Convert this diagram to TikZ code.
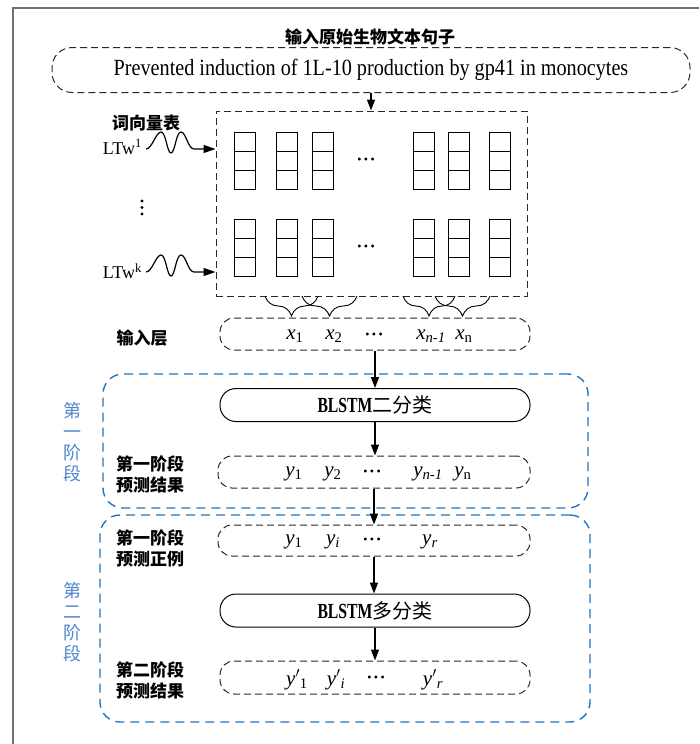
\documentclass[tikz,border=0pt]{standalone}
\usepackage{fontspec}
\setmainfont{Liberation Serif}
\newfontfamily\cjk{Noto Sans CJK SC}
\newfontfamily\narrowserif[FakeStretch=0.87]{Liberation Serif}
\newfontfamily\tallserif[FakeStretch=0.73]{Liberation Serif}
\usetikzlibrary{arrows.meta,decorations.pathreplacing}

\definecolor{framegray}{RGB}{112,112,112}
\definecolor{dashgray}{RGB}{40,40,40}
\definecolor{stageblue}{RGB}{28,118,198}
\definecolor{labelblue}{RGB}{80,134,204}

% italic symbol with subscript
\newcommand{\symsub}[2]{\textit{#1}\textsubscript{#2}}
\newcommand{\symprime}[2]{\textit{#1}$'$\textsubscript{#2}}
% heavy horizontal ellipsis
\newcommand{\hdots}{{\fontsize{12}{13}\selectfont •\kern2.4pt•\kern2.4pt•}}
% model name font
\newcommand{\modelfont}{\tallserif\bfseries\fontsize{21.5}{24}\selectfont}

\begin{document}
\begin{tikzpicture}[x=1pt,y=-1pt,
  dbox/.style={draw=dashgray, line width=1pt, dash pattern=on 7pt off 4pt,
    inner sep=0pt},
  pill/.style={draw=black, line width=1pt, rounded corners=16pt, inner sep=0pt,
    minimum width=310pt, minimum height=33pt},
  stagebox/.style={draw=stageblue, line width=1.4pt, dash pattern=on 9pt off 6pt,
    rounded corners=20pt, inner sep=0pt},
  flow/.style={-{Triangle[length=11pt,width=8pt]}, line width=1.4pt},
  wavearrow/.style={-{Triangle[length=12pt,width=8pt]}, line width=1.2pt},
  cell/.style={draw, line width=1pt, minimum width=21pt, minimum height=19pt,
    inner sep=0pt},
  lbl/.style={font=\cjk\bfseries\fontsize{17}{21}\selectfont, align=center,
    inner sep=0pt},
  vlbl/.style={font=\cjk\fontsize{18}{21}\selectfont, text=labelblue,
    align=center, inner sep=0pt},
  var/.style={font=\fontsize{21}{24}\selectfont, inner sep=0pt},
  brc/.style={decorate, decoration={brace, mirror, amplitude=20pt},
    line width=0.9pt},
  dotmark/.style={fill=black, circle, inner sep=0pt, minimum size=3.4pt}
]
\useasboundingbox (0,0) rectangle (699,744);

% page frame
\draw[framegray, line width=2pt] (13,744) -- (13,8) -- (699,8);

% input sentence
\node[lbl] (title) at (370,37) {输入原始生物文本句子};
\node[dbox, rounded corners=20pt, minimum width=638pt, minimum height=45pt,
  font=\narrowserif\fontsize{23.2}{26}\selectfont] (sent) at (371,70)
  {Prevented induction of 1L-10 production by gp41 in monocytes};

% word vector lookup tables
\node[dbox, minimum width=311pt, minimum height=185pt] (mat) at (371.5,203.5) {};
\foreach \cx [count=\ci] in {244.5,286.5,322.5,423.5,458.5,499.5}{
  \foreach \cy [count=\ri] in {141.5,160.5,179.5}
    \node[cell] (t-\ci-\ri) at (\cx,\cy) {};
  \foreach \cy [count=\ri] in {228.5,247.5,266.5}
    \node[cell] (b-\ci-\ri) at (\cx,\cy) {};
}
\node[inner sep=0pt] (tdots) at (366,161) {\hdots};
\node[inner sep=0pt] (bdots) at (366,248) {\hdots};

\node[lbl] (lut) at (146,123) {词向量表};
\node[font=\fontsize{18}{20}\selectfont, anchor=east, inner sep=0pt] (lt1) at (142,147) {LTw\textsuperscript{1}};
\node[font=\fontsize{18}{20}\selectfont, anchor=east, inner sep=0pt] (ltk) at (142,271) {LTw\textsuperscript{k}};
% vertical ellipsis between the tables
\foreach \dy [count=\di] in {201,207.5,214}
  \node[dotmark] (vd-\di) at (142,\dy) {};

\coordinate (w1) at (146,149);
\coordinate (wk) at (146,272);
\foreach \w in {w1,wk}
  \draw[wavearrow] (\w) .. controls +(6,0) and +(-5,0) .. ++(15,-17)
    .. controls +(5,0) and +(-4,0) .. ++(10,21)
    .. controls +(4,0) and +(-5,0) .. ++(10,-21)
    .. controls +(5,0) and +(-6,0) .. ++(13,17) -- (\w -| mat.west);

% braces grouping neighbouring columns
\draw[brc] (265,296) -- (318,296);
\draw[brc] (302,296) -- (357,296);
\draw[brc] (403,296) -- (455,296);
\draw[brc] (435,296) -- (490,296);

% input layer
\node[lbl] (inlbl) at (142,338) {输入层};
\node[dbox, rounded corners=14pt, minimum width=310pt, minimum height=32pt] (inp) at (375,334) {};
\node[var] (x1) at (295,336) {\symsub{x}{1}};
\node[var] (x2) at (334,336) {\symsub{x}{2}};
\node[inner sep=0pt] (xd) at (374,336) {\hdots};
\node[var] (xm) at (431,336) {\symsub{x}{\textit{n-1}}};
\node[var] (xn) at (464,336) {\symsub{x}{n}};

% stage one
\node[stagebox, minimum width=485pt, minimum height=134pt] (st1) at (345.5,441) {};
\node[vlbl] (st1lbl) at (72,442) {第\\一\\阶\\段};
\node[pill] (bl1) at (375,405)
  {{\modelfont BLSTM}{\cjk\fontsize{20}{24}\selectfont 二分类}};
\node[lbl] (r1lbl) at (150,474) {第一阶段\\预测结果};
\node[dbox, rounded corners=14pt, minimum width=312pt, minimum height=32pt] (r1) at (374,472) {};
\node[var] (y1) at (294,474) {\symsub{y}{1}};
\node[var] (y2) at (333,474) {\symsub{y}{2}};
\node[inner sep=0pt] (yd) at (372,473) {\hdots};
\node[var] (ym) at (428,474) {\symsub{y}{\textit{n-1}}};
\node[var] (yn) at (463,474) {\symsub{y}{n}};

% stage two
\node[stagebox, minimum width=490pt, minimum height=207pt] (st2) at (345,618.5) {};
\node[vlbl] (st2lbl) at (72,622) {第\\二\\阶\\段};
\node[lbl] (poslbl) at (150,548) {第一阶段\\预测正例};
\node[dbox, rounded corners=14pt, minimum width=312pt, minimum height=31pt] (pos) at (374,540.5) {};
\node[var] (p1) at (294,542) {\symsub{y}{1}};
\node[var] (pi) at (333,542) {\symsub{y}{\textit{i}}};
\node[inner sep=0pt] (pd) at (372,541) {\hdots};
\node[var] (pr) at (430,542) {\symsub{y}{\textit{r}}};
\node[pill] (bl2) at (375,610.5)
  {{\modelfont BLSTM}{\cjk\fontsize{20}{24}\selectfont 多分类}};
\node[lbl] (r2lbl) at (150,680) {第二阶段\\预测结果};
\node[dbox, rounded corners=14pt, minimum width=310pt, minimum height=33pt] (r2) at (375,677.5) {};
\node[var] (q1) at (297,680) {\symprime{y}{1}};
\node[var] (qi) at (336,680) {\symprime{y}{\textit{i}}};
\node[inner sep=0pt] (qd) at (376,679) {\hdots};
\node[var] (qr) at (433,680) {\symprime{y}{\textit{r}}};

% data flow
\draw[flow] (sent.south) -- (sent.south |- mat.north);
\draw[flow] (inp.south) -- (bl1.north);
\draw[flow] (bl1.south) -- (bl1.south |- r1.north);
\draw[flow] (r1.south) -- (r1.south |- pos.north);
\draw[flow] (pos.south) -- (pos.south |- bl2.north);
\draw[flow] (bl2.south) -- (bl2.south |- r2.north);
\end{tikzpicture}
\end{document}
